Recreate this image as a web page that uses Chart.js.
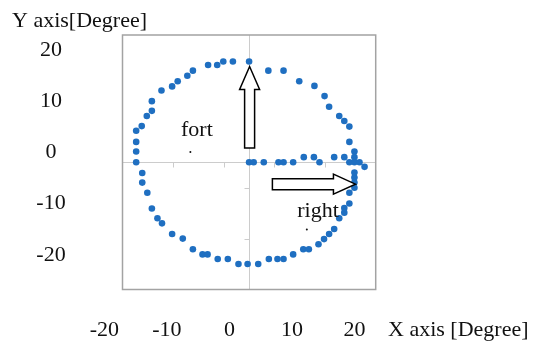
<!DOCTYPE html>
<html>
<head>
<meta charset="utf-8">
<script src="https://cdn.jsdelivr.net/npm/chart.js@4.4.1/dist/chart.umd.min.js"></script>
<style>
  html, body { margin: 0; padding: 0; background: #fff; }
  #wrap { width: 536px; height: 350px; position: relative; }
</style>
</head>
<body>
<div id="wrap"><canvas id="chart"></canvas></div>
<script>
// Measured points (degrees)
const xValues = [
    0, -3.2, -5.1, -6.3, -8.1, -11.1, -12.2, -14.1, -15.2, -17.3, -19.2, -19.2, -20.2, -21.2, -22.3, -22.3, -22.3, -22.3,
    -21.1, -21.1, -20.1, -19.2, -18.1, -17.2, -15.2, -13.1, -11.1, -9.2, -8.2, -6.2, -4.2, -2.1, -0.3,
    1.8, 3.9, 5.6, 6.8, 8.7, 10.7, 11.8, 13.7, 14.8, 15.8, 16.8, 17.8, 18.8, 18.8, 19.8, 19.8, 20.8, 20.8, 20.8, 20.8,
    0, 0.9, 2.9, 5.8, 6.8, 8.7, 10.8, 12.8, 13.9, 16.8, 18.8, 19.8, 20.8, 20.8, 20.8, 21.8, 22.8,
    3.8, 6.8, 9.9, 12.9, 14.9, 15.8, 17.8, 18.8, 19.8, 19.8
];
const yValues = [
    19.8, 19.8, 19.8, 19.1, 19.1, 18.0, 17.0, 15.9, 14.9, 14.1, 12.0, 10.1, 9.1, 7.1, 6.2, 4.0, 2.1, 0,
    -2.1, -4.0, -6.0, -9.1, -11.0, -12.0, -14.1, -15.0, -17.1, -18.1, -18.1, -19.0, -19.0, -20.0, -20.0,
    -20.0, -19.0, -19.0, -19.0, -18.1, -17.1, -17.1, -16.1, -15.1, -14.1, -13.1, -11.0, -9.9, -9.0, -8.1, -6.0, -5.0, -4.0, -3.0, -2.0,
    0, 0, 0, 0, 0, 0, 1.0, 1.0, 0, 1.0, 1.0, 0, 2.1, 1.0, 0, 0, -0.9,
    18.0, 18.0, 15.9, 15.0, 13.0, 10.9, 9.1, 8.1, 7.0, 4.0
];

// Tick labels
const xTickValues = [-20, -10, 0, 10, 20];
const xTickLabels = ['-20', '-10', '0', '10', '20'];
const yTickValues = [20, 10, 0, -10, -20];
const yTickLabels = ['20', '10', '0', '-10', '-20'];
const axisTickValues = [-15, -5, 5, 15];

const xTitle = 'X axis [Degree]';
const yTitle = 'Y axis[Degree]';

const FONT = '22px "Liberation Serif", "Times New Roman", serif';

// Arrow shape with white fill and black outline
function drawArrow(ctx, x1, y1, x2, y2, shaft, head, headLen) {
    const ang = Math.atan2(y2 - y1, x2 - x1);
    const len = Math.hypot(x2 - x1, y2 - y1);
    ctx.save();
    ctx.translate(x1, y1);
    ctx.rotate(ang);
    ctx.beginPath();
    ctx.moveTo(0, -shaft);
    ctx.lineTo(len - headLen, -shaft);
    ctx.lineTo(len - headLen, -head);
    ctx.lineTo(len, 0);
    ctx.lineTo(len - headLen, head);
    ctx.lineTo(len - headLen, shaft);
    ctx.lineTo(0, shaft);
    ctx.closePath();
    ctx.fillStyle = '#fff';
    ctx.fill();
    ctx.strokeStyle = '#000';
    ctx.lineWidth = 1.5;
    ctx.lineJoin = 'miter';
    ctx.stroke();
    ctx.restore();
}

const framePlugin = {
    id: 'frame',
    beforeDatasetsDraw(chart) {
        const { ctx, chartArea: a, scales: { x, y } } = chart;
        const x0 = Math.round(x.getPixelForValue(0)) + 0.5;
        const y0 = Math.round(y.getPixelForValue(0)) + 0.5;
        ctx.save();
        // zero lines
        ctx.strokeStyle = '#cccccc';
        ctx.lineWidth = 1;
        ctx.beginPath();
        ctx.moveTo(x0, a.top);
        ctx.lineTo(x0, a.bottom);
        ctx.moveTo(a.left, y0);
        ctx.lineTo(a.right, y0);
        // small tick marks on the zero lines
        axisTickValues.forEach(v => {
            const px = Math.round(x.getPixelForValue(v)) + 0.5;
            ctx.moveTo(px, y0);
            ctx.lineTo(px, y0 + 5);
            const py = Math.round(y.getPixelForValue(v)) + 0.5;
            ctx.moveTo(x0 - 5, py);
            ctx.lineTo(x0, py);
        });
        ctx.stroke();
        // plot box
        ctx.strokeStyle = '#a3a3a3';
        ctx.lineWidth = 1.5;
        ctx.strokeRect(a.left, a.top, a.width, a.height);
        ctx.restore();
    },
    afterDatasetsDraw(chart) {
        const { ctx, scales: { x, y, xl, yl } } = chart;
        ctx.save();
        // arrows
        drawArrow(ctx, x.getPixelForValue(0.1), y.getPixelForValue(2.8),
                  x.getPixelForValue(0.1), y.getPixelForValue(18.8), 5, 10, 23);
        drawArrow(ctx, x.getPixelForValue(4.6), y.getPixelForValue(-4.3),
                  x.getPixelForValue(21.0), y.getPixelForValue(-4.3), 5.5, 10, 22);

        ctx.fillStyle = '#111';
        ctx.font = FONT;

        // labels inside the plot
        ctx.textAlign = 'left';
        ctx.textBaseline = 'alphabetic';
        ctx.fillText('fort', x.getPixelForValue(-13.45), y.getPixelForValue(5.16));
        ctx.fillText('right', x.getPixelForValue(9.5), y.getPixelForValue(-10.7));
        [[-11.6, 2.0], [11.4, -13.2]].forEach(p => {
            ctx.beginPath();
            ctx.arc(x.getPixelForValue(p[0]), y.getPixelForValue(p[1]), 1, 0, Math.PI * 2);
            ctx.fill();
        });

        // axis titles
        ctx.fillText(yTitle, 12, 27);
        ctx.textBaseline = 'middle';
        ctx.fillText(xTitle, 388, 330);

        // tick labels (offset from the plot grid as in the original)
        ctx.textAlign = 'center';
        xTickValues.forEach((v, i) => {
            ctx.fillText(xTickLabels[i], xl.getPixelForValue(v), 330);
        });
        yTickValues.forEach((v, i) => {
            ctx.fillText(yTickLabels[i], 51, yl.getPixelForValue(v));
        });
        ctx.restore();
    }
};

new Chart(document.getElementById('chart'), {
    type: 'scatter',
    data: {
        datasets: [{
            data: xValues.map((v, i) => ({ x: v, y: yValues[i] })),
            xAxisID: 'x',
            yAxisID: 'y',
            backgroundColor: '#1f6fc1',
            borderColor: '#1f6fc1',
            pointRadius: 3.3,
            pointBorderWidth: 0
        }]
    },
    options: {
        responsive: true,
        maintainAspectRatio: false,
        animation: false,
        layout: {
            padding: { left: 122.5, right: 160.3, top: 35, bottom: 60.5 }
        },
        plugins: {
            legend: { display: false },
            tooltip: { enabled: false }
        },
        scales: {
            x: { type: 'linear', display: false, min: -25, max: 25 },
            y: { type: 'linear', display: false, min: -25, max: 25 },
            xl: { type: 'linear', axis: 'x', display: false, min: -17.1, max: 23.4 },
            yl: { type: 'linear', axis: 'y', display: false, min: -26.8, max: 22.96 }
        }
    },
    plugins: [framePlugin]
});
</script>
</body>
</html>
